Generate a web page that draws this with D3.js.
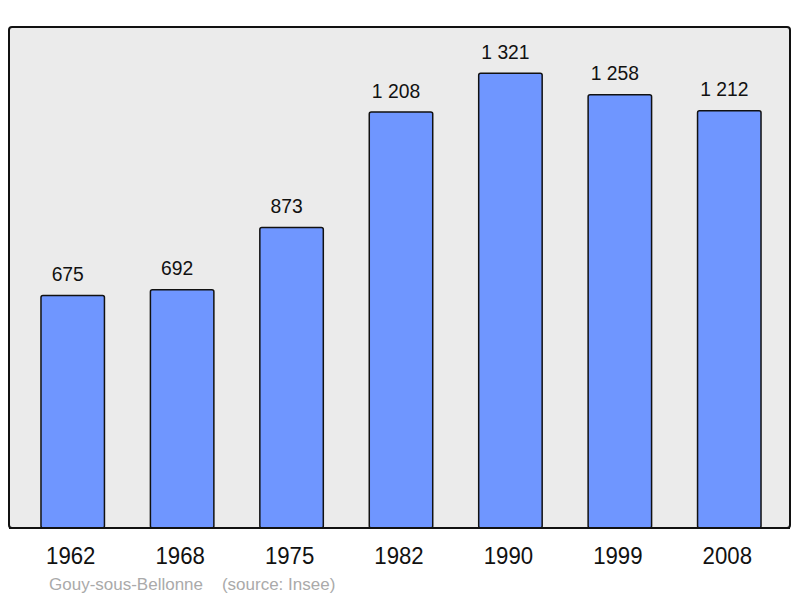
<!DOCTYPE html>
<html><head><meta charset="utf-8">
<script src="https://cdn.jsdelivr.net/npm/d3@7"></script>
<style>body{margin:0;background:#fff}svg{display:block}</style>
</head><body>
<script>
const years = ["1962","1968","1975","1982","1990","1999","2008"];
const population = [675, 692, 873, 1208, 1321, 1258, 1212];
const valueLabels = ["675","692","873","1 208","1 321","1 258","1 212"];
const footerText = "Gouy-sous-Bellonne    (source: Insee)";

const W = 800, H = 598;
const FONT = "Liberation Sans, Arial, sans-serif";
const svg = d3.select("body").append("svg").attr("width", W).attr("height", H);

const x = d3.scaleBand().domain(years).range([18, 784]).paddingInner(0.42).paddingOuter(0.21);
const y = d3.scaleLinear().domain([0, 1455]).range([528, 27]);

svg.append("rect").attr("x", 9).attr("y", 27).attr("width", 781).attr("height", 501)
  .attr("rx", 3).attr("fill", "#ebebeb").attr("stroke", "#111").attr("stroke-width", 2);

svg.selectAll("rect.bar").data(population).enter().append("rect").attr("class","bar")
  .attr("x", (d,i) => x(years[i])).attr("y", d => y(d))
  .attr("width", x.bandwidth()).attr("height", d => y(0) - y(d))
  .attr("rx", 2).attr("fill", "#6f96ff").attr("stroke", "#111").attr("stroke-width", 1.5);

svg.append("line").attr("x1", 9).attr("x2", 790).attr("y1", 528).attr("y2", 528)
  .attr("stroke", "#111").attr("stroke-width", 2);

svg.selectAll("text.val").data(population).enter().append("text").attr("class","val")
  .attr("transform", (d,i) => `translate(${x(years[i]) + x.bandwidth()/2 - 5},${y(d) - 14.5}) scale(1,1.07)`)
  .attr("text-anchor", "middle").attr("font-family", FONT)
  .attr("font-size", 19.3).attr("fill", "#111").text((d,i) => valueLabels[i]);

const xAxis = svg.append("g").attr("transform", "translate(-2,564)")
  .call(d3.axisBottom(x).tickSize(0).tickPadding(0));
xAxis.select(".domain").remove();
xAxis.selectAll("text").attr("dy", 0).attr("y", 0)
  .attr("transform", "scale(1,1.06)")
  .attr("font-family", FONT).attr("font-size", 22.2).attr("fill", "#111");

svg.append("text").attr("x", 49).attr("y", 590).attr("xml:space", "preserve")
  .attr("font-family", FONT).attr("font-size", 17)
  .attr("fill", "#aaa").style("white-space", "pre").text(footerText);
</script>
</body></html>
